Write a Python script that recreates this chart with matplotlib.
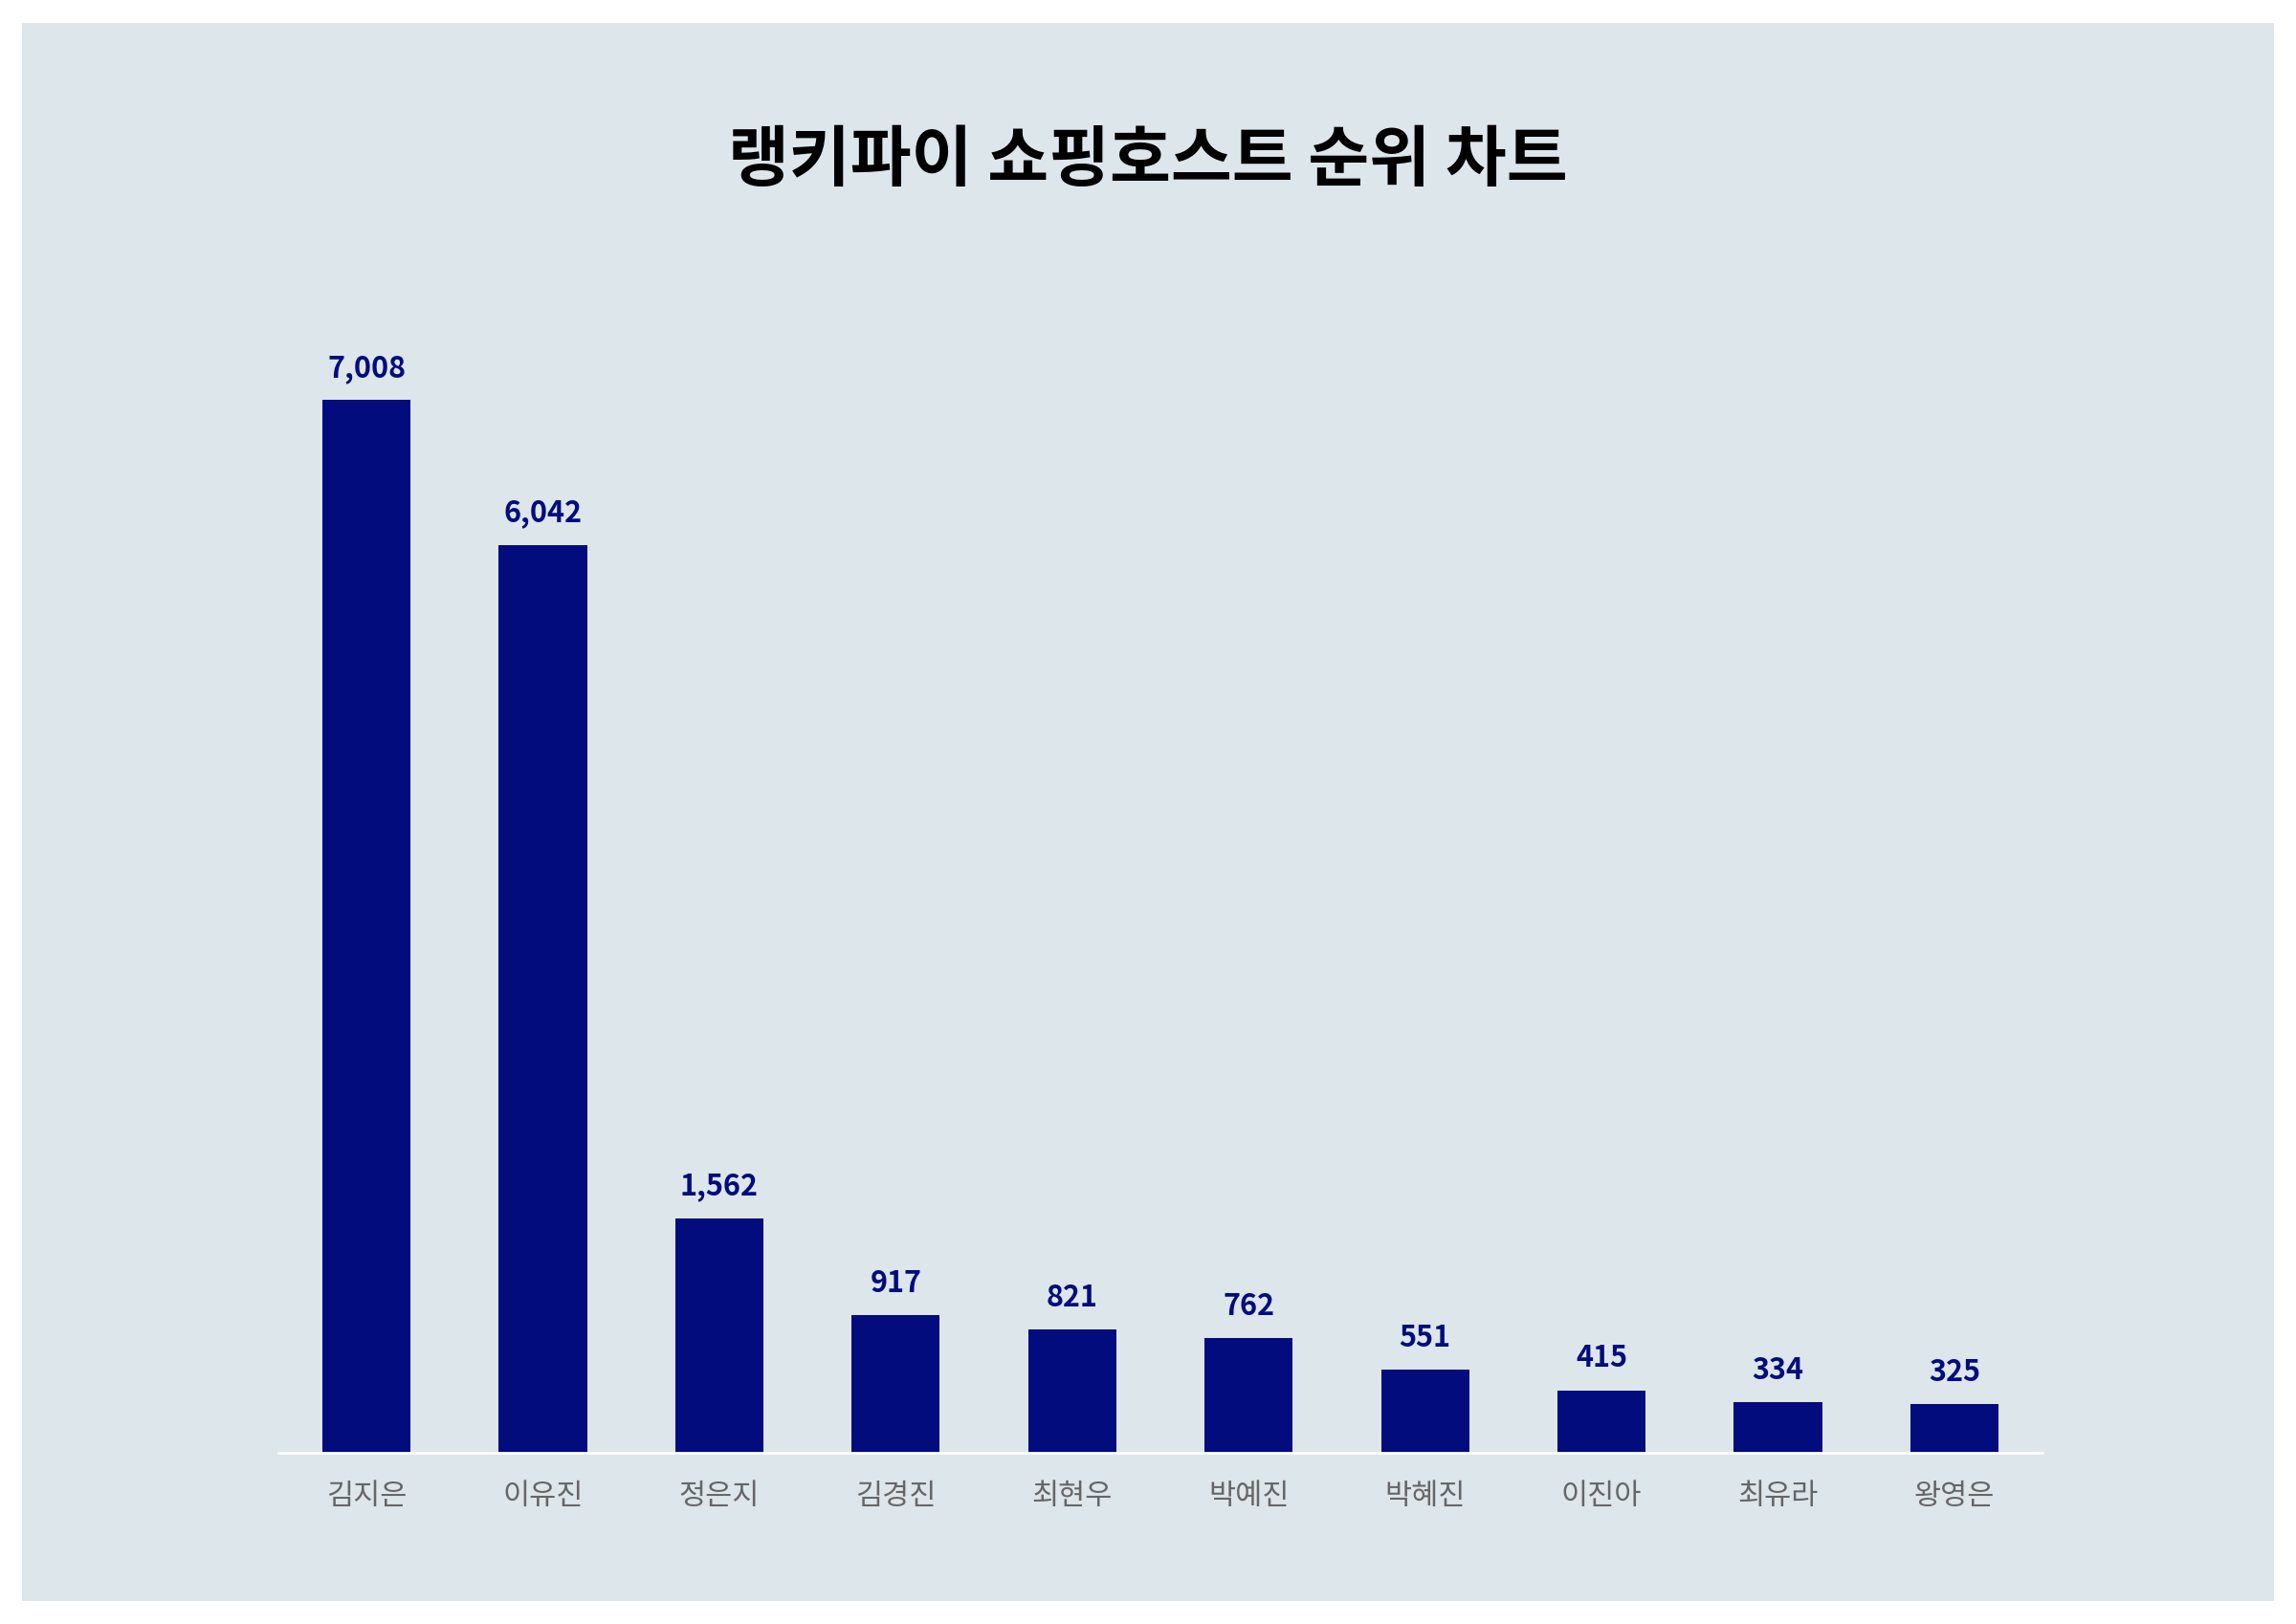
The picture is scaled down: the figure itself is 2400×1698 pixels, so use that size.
import matplotlib
matplotlib.use("Agg")
import matplotlib.pyplot as plt
from matplotlib import font_manager
from matplotlib.patches import Rectangle

names = ["김지은", "이유진", "정은지", "김경진", "최현우", "박예진", "박혜진", "이진아", "최유라", "왕영은"]
values = [7008, 6042, 1562, 917, 821, 762, 551, 415, 334, 325]
title = "랭키파이 쇼핑호스트 순위 차트"

avail = {f.name for f in font_manager.fontManager.ttflist}
fam = [n for n in ["Noto Sans CJK KR", "Noto Sans CJK JP", "Noto Sans CJK SC", "Noto Sans CJK TC"] if n in avail]
plt.rcParams["font.family"] = fam + ["DejaVu Sans"]

fig = plt.figure(figsize=(24, 16.98), dpi=100)
fig.patch.set_facecolor("white")
bg = Rectangle((15/1568, 16/1109), 1538/1568, 1077/1109, transform=fig.transFigure,
               facecolor="#dce6eb", edgecolor="none", zorder=-10)
fig.add_artist(bg)
ax = fig.add_axes([190/1568, 1-992/1109, 1205/1568, 792/1109])
ax.set_zorder(5)
ax.set_facecolor("none")
x = list(range(len(names)))
ax.bar(x, values, width=0.5, color="#020c7c")
ax.set_xlim(-0.5, len(names)-0.5)
ax.set_ylim(0, 7720)
for i, v in zip(x, values):
    ax.text(i, v + 110, f"{v:,}", ha="center", va="bottom", fontsize=22, fontweight="bold", color="#020c7c")
ax.set_xticks(x)
ax.set_xticklabels(names, fontsize=22, color="#666666")
ax.tick_params(axis="x", length=0, pad=22)
ax.set_yticks([])
for s in ["top", "right", "left"]:
    ax.spines[s].set_visible(False)
ax.spines["bottom"].set_color("white")
ax.spines["bottom"].set_linewidth(2)
fig.text(0.5, 1-110/1109, title, ha="center", va="center", fontsize=50, fontweight="bold", color="black", zorder=6)
fig.savefig("out.png", dpi=100, facecolor="white")
